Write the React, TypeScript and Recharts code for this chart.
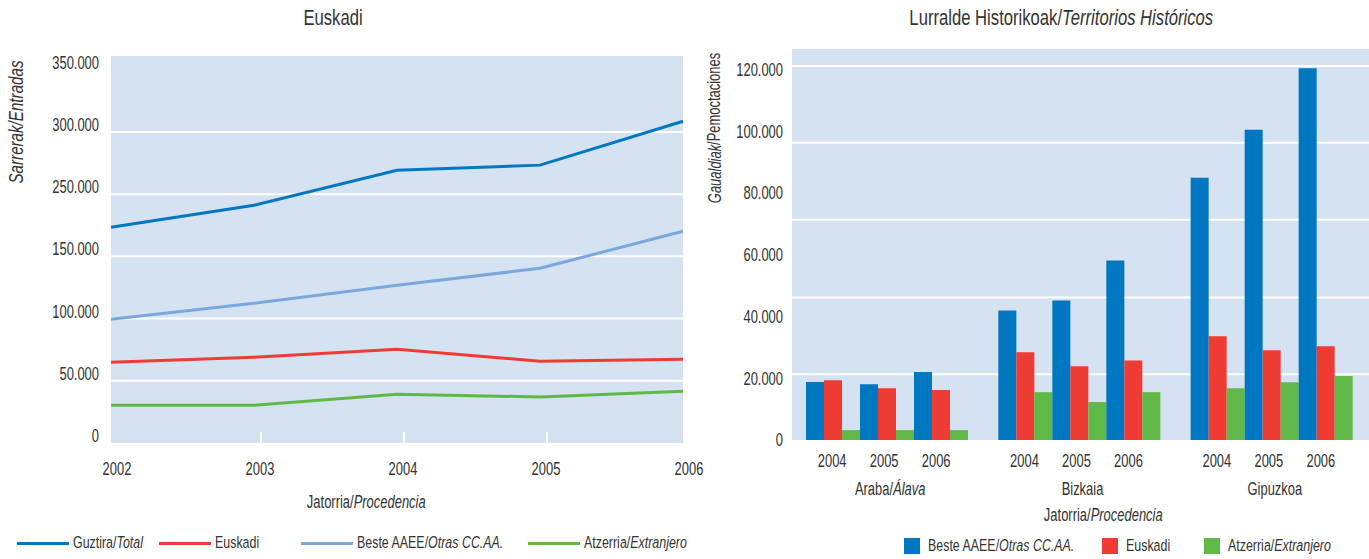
import React from 'react';
import {
  LineChart,
  Line,
  BarChart,
  Bar,
  XAxis,
  YAxis,
  CartesianGrid,
  Legend,
} from 'recharts';

const FONT = "'Liberation Sans', Arial, sans-serif";
const SX = 0.74; // condensed look of the original typeface
const FS = 17.5;
const TEXT = '#333333';
const PANEL = '#d5e2f1';
const BLUE = '#0077c1';
const LIGHT_BLUE = '#7aa7dc';
const RED = '#ee3b33';
const GREEN = '#60b946';

// Euskadi: entries per year
const years = ['2002', '2003', '2004', '2005', '2006'];
const totalEntries = [173400, 191100, 219200, 223300, 258600];
const euskadiEntries = [64900, 68900, 75300, 65700, 67300];
const otherRegionsEntries = [99400, 112300, 126700, 140400, 170200];
const abroadEntries = [30300, 30300, 39100, 37000, 41600];
const entryTicks = [0, 50000, 100000, 150000, 200000, 250000, 300000];
// labels as printed in the source (200.000 is skipped there)
const entryTickLabels = ['0', '50.000', '100.000', '150.000', '250.000', '300.000', '350.000'];
const entryGrid = [50000, 100000, 150000, 200000, 250000];

// Territorios: overnight stays, rows = territory, cols = year
const territories = ['Araba/Álava', 'Bizkaia', 'Gipuzkoa'];
const barYears = ['2004', '2005', '2006'];
const otherRegionsNights = [
  [18800, 18100, 22000],
  [42000, 45200, 58200],
  [85000, 100500, 120500],
];
const euskadiNights = [
  [19400, 16800, 16200],
  [28400, 23900, 25800],
  [33600, 29100, 30400],
];
const abroadNights = [
  [3200, 3200, 3200],
  [15500, 12300, 15500],
  [16800, 18700, 20700],
];
const nightTicks = [0, 20000, 40000, 60000, 80000, 100000, 120000];
const nightTickLabels = ['0', '20.000', '40.000', '60.000', '80.000', '100.000', '120.000'];
const nightGrid = [21300, 46200, 71400, 96300, 121200];

const lineSeries = [
  { key: 'total', name: 'Guztira/Total', color: BLUE, values: totalEntries },
  { key: 'euskadi', name: 'Euskadi', color: RED, values: euskadiEntries },
  { key: 'other', name: 'Beste AAEE/Otras CC.AA.', color: LIGHT_BLUE, values: otherRegionsEntries },
  { key: 'abroad', name: 'Atzerria/Extranjero', color: GREEN, values: abroadEntries },
];

const barSeries = [
  { key: 'other', name: 'Beste AAEE/Otras CC.AA.', color: BLUE, values: otherRegionsNights },
  { key: 'euskadi', name: 'Euskadi', color: RED, values: euskadiNights },
  { key: 'abroad', name: 'Atzerria/Extranjero', color: GREEN, values: abroadNights },
];

const lineData = years.map((year, i) => {
  const row: any = { year };
  lineSeries.forEach((s) => (row[s.key] = s.values[i]));
  return row;
});

const barData = territories.map((territory, ti) => {
  const row: any = { territory };
  barYears.forEach((yr, yi) => {
    barSeries.forEach((s) => (row[s.key + yr] = s.values[ti][yi]));
  });
  return row;
});

// "Basque/Spanish" -> Spanish part in italics
const bilingual = (label: string) => {
  const [eu, es] = label.split('/');
  if (es === undefined) return eu;
  return (
    <>
      {eu}/<tspan fontStyle="italic">{es}</tspan>
    </>
  );
};

const bilingualHtml = (label: string) => {
  const [eu, es] = label.split('/');
  if (es === undefined) return eu;
  return (
    <>
      {eu}/<i>{es}</i>
    </>
  );
};

// svg text squeezed horizontally
const NText = ({ x, y, anchor = 'middle', rotate, size = FS, children, ...rest }: any) => (
  <g transform={`translate(${x},${y})${rotate ? ` rotate(${rotate})` : ''} scale(${SX},1)`}>
    <text x={0} y={0} textAnchor={anchor} fill={TEXT} fontSize={size} fontFamily={FONT} {...rest}>
      {children}
    </text>
  </g>
);

// html text squeezed horizontally
const Narrow = ({ children, origin = 'center' }: any) => (
  <span style={{ display: 'inline-block', transform: `scaleX(${SX})`, transformOrigin: origin, whiteSpace: 'nowrap' }}>
    {children}
  </span>
);

const EntryTick = (props: any) => {
  const { x, y, payload } = props;
  return (
    <NText x={x} y={y} dy={-1} anchor="end">
      {entryTickLabels[entryTicks.indexOf(payload.value)]}
    </NText>
  );
};

const YearTick = (props: any) => {
  const { x, y, payload, index } = props;
  return (
    <g>
      {index > 0 && index < years.length - 1 && (
        <line x1={x + 7} x2={x + 7} y1={y - 31} y2={y - 20} stroke="#fff" strokeWidth={2} />
      )}
      <NText x={x + 6} y={y} dy="0.71em">
        {payload.value}
      </NText>
    </g>
  );
};

const NightTick = (props: any) => {
  const { x, y, payload } = props;
  return (
    <NText x={x} y={y} dy={6.3} anchor="end">
      {nightTickLabels[nightTicks.indexOf(payload.value)]}
    </NText>
  );
};

const TerritoryTick = (props: any) => {
  const { x, y, payload } = props;
  return (
    <g>
      {barYears.map((yr, i) => (
        <NText key={yr} x={x + (i - 1) * 52 - 4} y={y} dy="0.71em">
          {yr}
        </NText>
      ))}
      <NText x={x + 2} y={y + 28} dy="0.71em">
        {bilingual(String(payload.value))}
      </NText>
    </g>
  );
};

const leftLegendX = [17, 159, 301, 528];
const rightLegendX = [204, 402, 504];

const LineLegend = () => (
  <div style={{ position: 'relative', height: 20, fontFamily: FONT, fontSize: 16.8, color: TEXT }}>
    {lineSeries.map((s, i) => (
      <div
        key={s.key}
        style={{ position: 'absolute', left: leftLegendX[i], top: 0, height: 20, display: 'flex', alignItems: 'center', whiteSpace: 'nowrap' }}
      >
        <span style={{ display: 'inline-block', width: 52, height: 3, background: s.color, marginRight: 4 }} />
        <Narrow origin="left center">{bilingualHtml(s.name)}</Narrow>
      </div>
    ))}
  </div>
);

const BarLegend = () => (
  <div style={{ position: 'relative', height: 17, fontFamily: FONT, fontSize: 16.8, color: TEXT }}>
    {barSeries.map((s, i) => (
      <div
        key={s.key}
        style={{ position: 'absolute', left: rightLegendX[i], top: 0, height: 17, display: 'flex', alignItems: 'center', whiteSpace: 'nowrap' }}
      >
        <span style={{ display: 'inline-block', width: 16, height: 16, background: s.color, marginRight: 8 }} />
        <Narrow origin="left center">{bilingualHtml(s.name)}</Narrow>
      </div>
    ))}
  </div>
);

const titleStyle: React.CSSProperties = {
  position: 'absolute',
  top: 6,
  width: 400,
  lineHeight: '24px',
  textAlign: 'center',
  fontFamily: FONT,
  fontSize: 22.5,
  color: TEXT,
  whiteSpace: 'nowrap',
};

const axisTitleStyle: React.CSSProperties = {
  position: 'absolute',
  width: 300,
  lineHeight: '20px',
  textAlign: 'center',
  fontFamily: FONT,
  fontSize: FS,
  color: TEXT,
  whiteSpace: 'nowrap',
};

export default function App() {
  return (
    <div style={{ position: 'absolute', left: 0, top: 0, width: 1369, height: 559, background: '#fff', overflow: 'hidden' }}>
      <div style={{ ...titleStyle, left: 133 }}>
        <Narrow>Euskadi</Narrow>
      </div>
      <div style={{ ...titleStyle, left: 856 }}>
        <Narrow>
          Lurralde Historikoak/<i>Territorios Históricos</i>
        </Narrow>
      </div>
      <div style={{ ...axisTitleStyle, left: 216, top: 492 }}>
        <Narrow>
          Jatorria/<i>Procedencia</i>
        </Narrow>
      </div>
      <div style={{ ...axisTitleStyle, left: 953, top: 505 }}>
        <Narrow>
          Jatorria/<i>Procedencia</i>
        </Narrow>
      </div>

      <div style={{ position: 'absolute', left: 0, top: 0 }}>
        <LineChart width={708} height={559} data={lineData} margin={{ top: 56, right: 25, bottom: 86, left: 51 }}>
          <CartesianGrid fill={PANEL} vertical={false} stroke="#fff" strokeWidth={2} horizontalValues={entryGrid} />
          <XAxis
            dataKey="year"
            axisLine={false}
            tickLine={false}
            tickSize={0}
            tickMargin={20}
            height={30}
            interval={0}
            tick={YearTick}
          />
          <YAxis
            type="number"
            domain={[0, 311000]}
            ticks={entryTicks}
            interval={0}
            width={60}
            axisLine={false}
            tickLine={false}
            tickSize={0}
            tickMargin={12}
            tick={EntryTick}
            label={() => (
              <NText x={16} y={122} rotate={-90} size={20.5} dominantBaseline="central" fontStyle="italic">
                Sarrerak/Entradas
              </NText>
            )}
          />
          <Legend
            layout="horizontal"
            verticalAlign="middle"
            align="center"
            content={LineLegend}
            wrapperStyle={{ left: 0, top: 533, width: 708, height: 20 }}
          />
          {lineSeries.map((s) => (
            <Line
              key={s.key}
              type="linear"
              dataKey={s.key}
              name={s.name}
              stroke={s.color}
              strokeWidth={3}
              dot={false}
              activeDot={false}
              isAnimationActive={false}
            />
          ))}
        </LineChart>
      </div>

      <div style={{ position: 'absolute', left: 700, top: 0 }}>
        <BarChart
          width={669}
          height={559}
          data={barData}
          barGap={0}
          barCategoryGap={14}
          margin={{ top: 49, right: 0, bottom: 59, left: 32 }}
        >
          <CartesianGrid fill={PANEL} vertical={false} stroke="#fff" strokeWidth={2} horizontalValues={nightGrid} />
          <XAxis
            dataKey="territory"
            axisLine={false}
            tickLine={false}
            tickSize={0}
            tickMargin={15}
            height={60}
            interval={0}
            tick={TerritoryTick}
          />
          <YAxis
            type="number"
            domain={[0, 126700]}
            ticks={nightTicks}
            interval={0}
            width={60}
            axisLine={false}
            tickLine={false}
            tickSize={0}
            tickMargin={9}
            tick={NightTick}
            label={() => (
              <NText x={14} y={128} rotate={-90} dominantBaseline="central">
                <tspan fontStyle="italic">Gaualdiak</tspan>/Pemoctaciones
              </NText>
            )}
          />
          <Legend
            layout="horizontal"
            verticalAlign="middle"
            align="center"
            content={BarLegend}
            wrapperStyle={{ left: 0, top: 537, width: 669, height: 17 }}
          />
          {barYears.flatMap((yr) =>
            barSeries.map((s) => (
              <Bar
                key={s.key + yr}
                dataKey={s.key + yr}
                name={s.name}
                fill={s.color}
                legendType="square"
                isAnimationActive={false}
              />
            ))
          )}
        </BarChart>
      </div>
    </div>
  );
}
